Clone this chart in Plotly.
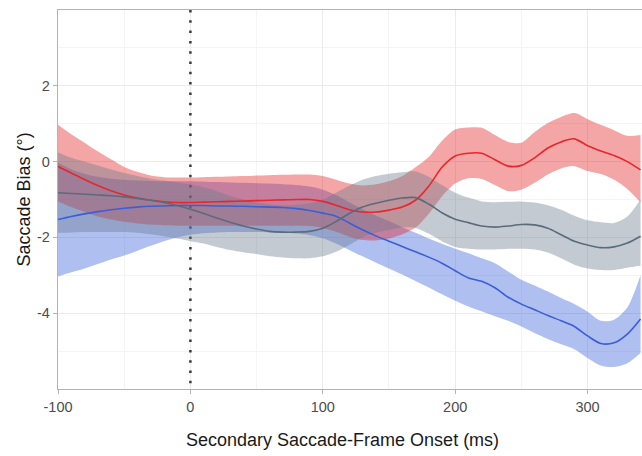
import plotly.graph_objects as go

# Secondary saccade-frame onset (ms)
onset = [-100, -90, -80, -70, -60, -50, -40, -30, -20, -10,
         0, 10, 20, 30, 40, 50, 60, 70, 80, 90,
         100, 110, 120, 130, 140, 150, 160, 170, 180, 190,
         200, 210, 220, 230, 240, 250, 260, 270, 280, 290,
         300, 310, 320, 330, 340]

# Red condition: fitted bias and confidence band
red_mean = [-0.13, -0.30, -0.47, -0.63, -0.77, -0.88, -0.96, -1.02, -1.06, -1.08,
            -1.08, -1.07, -1.06, -1.05, -1.04, -1.03, -1.02, -1.01, -1.00, -1.00,
            -1.05, -1.15, -1.27, -1.33, -1.33, -1.28, -1.20, -1.02, -0.65, -0.15,
            0.15, 0.22, 0.22, 0.05, -0.12, -0.10, 0.10, 0.36, 0.52, 0.60,
            0.42, 0.28, 0.16, 0.00, -0.22]
red_upper = [0.97, 0.72, 0.50, 0.27, 0.06, -0.14, -0.27, -0.37, -0.41, -0.42,
             -0.42, -0.41, -0.40, -0.39, -0.38, -0.37, -0.36, -0.35, -0.34, -0.34,
             -0.38, -0.48, -0.58, -0.63, -0.60, -0.52, -0.38, -0.15, 0.12, 0.55,
             0.85, 0.90, 0.89, 0.70, 0.52, 0.50, 0.78, 1.02, 1.18, 1.28,
             1.12, 0.97, 0.83, 0.68, 0.70]
red_lower = [-1.05, -1.20, -1.33, -1.45, -1.53, -1.59, -1.63, -1.66, -1.68, -1.69,
             -1.69, -1.69, -1.69, -1.69, -1.69, -1.69, -1.69, -1.69, -1.69, -1.70,
             -1.75, -1.85, -1.98, -2.07, -2.08, -2.03, -1.92, -1.74, -1.38, -0.92,
             -0.58, -0.44, -0.46, -0.62, -0.78, -0.74, -0.56, -0.34, -0.18, -0.12,
             -0.25, -0.33, -0.48, -0.72, -1.08]

# Blue condition
blue_mean = [-1.53, -1.45, -1.38, -1.32, -1.27, -1.23, -1.20, -1.18, -1.17, -1.16,
             -1.16, -1.16, -1.17, -1.17, -1.18, -1.19, -1.20, -1.21, -1.24, -1.29,
             -1.36, -1.44, -1.62, -1.80, -1.96, -2.10, -2.24, -2.38, -2.52, -2.68,
             -2.88, -3.07, -3.16, -3.33, -3.58, -3.76, -3.91, -4.06, -4.20, -4.35,
             -4.60, -4.80, -4.78, -4.55, -4.15]
blue_upper = [-0.03, -0.20, -0.32, -0.40, -0.45, -0.48, -0.50, -0.51, -0.52, -0.52,
              -0.52, -0.53, -0.54, -0.55, -0.56, -0.57, -0.58, -0.60, -0.62, -0.66,
              -0.74, -0.88, -1.07, -1.25, -1.42, -1.57, -1.73, -1.88, -2.03, -2.17,
              -2.30, -2.42, -2.55, -2.68, -2.90, -3.12, -3.27, -3.43, -3.60, -3.76,
              -3.96, -4.20, -4.17, -3.85, -3.00]
blue_lower = [-3.03, -2.92, -2.82, -2.70, -2.58, -2.48, -2.35, -2.22, -2.10, -2.00,
              -1.93, -1.89, -1.87, -1.86, -1.86, -1.86, -1.87, -1.88, -1.90, -1.94,
              -2.02, -2.16, -2.33, -2.50, -2.66, -2.82, -2.98, -3.15, -3.32, -3.50,
              -3.67, -3.82, -3.95, -4.08, -4.20, -4.35, -4.52, -4.68, -4.82, -4.95,
              -5.18, -5.38, -5.42, -5.32, -5.05]

# Gray condition
gray_mean = [-0.82, -0.84, -0.86, -0.88, -0.90, -0.93, -0.97, -1.02, -1.08, -1.16,
             -1.26, -1.37, -1.49, -1.60, -1.70, -1.78, -1.84, -1.86, -1.86, -1.84,
             -1.76, -1.58, -1.37, -1.20, -1.10, -1.02, -0.96, -0.95, -1.12, -1.35,
             -1.52, -1.61, -1.70, -1.73, -1.70, -1.66, -1.67, -1.76, -1.93, -2.10,
             -2.20, -2.27, -2.25, -2.15, -1.97]
gray_upper = [0.25, 0.10, 0.00, -0.10, -0.20, -0.30, -0.38, -0.45, -0.50, -0.55,
              -0.60, -0.68, -0.78, -0.90, -1.00, -1.08, -1.13, -1.15, -1.14, -1.10,
              -1.00, -0.82, -0.64, -0.48, -0.38, -0.32, -0.28, -0.26, -0.40, -0.62,
              -0.82, -0.95, -1.05, -1.07, -1.06, -1.05, -1.08, -1.15, -1.27, -1.43,
              -1.55, -1.60, -1.62, -1.45, -1.00]
gray_lower = [-1.88, -1.87, -1.86, -1.86, -1.86, -1.86, -1.88, -1.92, -1.97, -2.03,
              -2.10, -2.16, -2.25, -2.33, -2.39, -2.44, -2.50, -2.53, -2.55, -2.55,
              -2.50, -2.38, -2.20, -2.00, -1.88, -1.80, -1.74, -1.75, -1.90, -2.10,
              -2.25, -2.30, -2.32, -2.32, -2.30, -2.30, -2.32, -2.40, -2.55, -2.72,
              -2.82, -2.86, -2.86, -2.80, -2.75]

x_ticks = [-100, 0, 100, 200, 300]
x_labels = ["-100", "0", "100", "200", "300"]
y_ticks = [-4, -2, 0, 2]
y_labels = ["-4", "-2", "0", "2"]

# name, mean, upper, lower, line colour, ribbon colour (ribbons stacked in this order)
series = [
    ("blue", blue_mean, blue_upper, blue_lower, "#3c5dd8", "rgba(52,95,217,0.4)"),
    ("red", red_mean, red_upper, red_lower, "#e8262b", "rgba(227,32,32,0.4)"),
    ("gray", gray_mean, gray_upper, gray_lower, "#5b6b7b", "rgba(107,122,142,0.4)"),
]

fig = go.Figure()

# frame onset marker
fig.add_trace(go.Scatter(
    x=[0, 0], y=[4, -6], mode="lines",
    line=dict(color="#3a3a3a", width=2.5, dash="2.5px,7.8px"),
    hoverinfo="skip", showlegend=False))

# confidence ribbons
for name, mean, upper, lower, line_col, fill_col in series:
    fig.add_trace(go.Scatter(
        x=onset, y=lower, mode="lines", line=dict(width=0, shape="spline", smoothing=0.8),
        hoverinfo="skip", showlegend=False))
    fig.add_trace(go.Scatter(
        x=onset, y=upper, mode="lines", line=dict(width=0, shape="spline", smoothing=0.8),
        fill="tonexty", fillcolor=fill_col, hoverinfo="skip", showlegend=False))

# fitted lines on top
for name, mean, upper, lower, line_col, fill_col in series:
    fig.add_trace(go.Scatter(
        x=onset, y=mean, mode="lines", name=name,
        line=dict(color=line_col, width=1.6, shape="spline", smoothing=0.8),
        showlegend=False))

axis_font = dict(family="Liberation Sans, Arial, sans-serif", size=14.5, color="#4d4d4d")
title_font = dict(family="Liberation Sans, Arial, sans-serif", size=18, color="#1a1a1a")

fig.update_layout(
    width=642, height=456,
    margin=dict(l=58, r=0, t=10, b=67),
    paper_bgcolor="white", plot_bgcolor="white",
    xaxis=dict(
        range=[-100, 341.1], tickmode="array", tickvals=x_ticks, ticktext=x_labels,
        showgrid=True, gridcolor="#ebebeb", gridwidth=1,
        minor=dict(tickmode="array", tickvals=[-50, 50, 150, 250], showgrid=True,
                   gridcolor="#f4f4f4", gridwidth=1),
        showline=True, linecolor="#b3b3b3", linewidth=1.3, mirror=True,
        ticks="outside", ticklen=4, tickcolor="#b3b3b3", tickwidth=1,
        tickfont=axis_font, zeroline=False,
    ),
    yaxis=dict(
        range=[-6, 4], tickmode="array", tickvals=y_ticks, ticktext=y_labels,
        showgrid=True, gridcolor="#ebebeb", gridwidth=1,
        minor=dict(tickmode="array", tickvals=[-5, -3, -1, 1, 3], showgrid=True,
                   gridcolor="#f4f4f4", gridwidth=1),
        showline=True, linecolor="#b3b3b3", linewidth=1.3, mirror=False,
        ticks="outside", ticklen=4, tickcolor="#b3b3b3", tickwidth=1,
        tickfont=axis_font, zeroline=False,
    ),
    annotations=[
        dict(text="Secondary Saccade-Frame Onset (ms)", font=title_font,
             xref="paper", yref="paper", x=0.488, y=0, xanchor="center",
             yanchor="middle", yshift=-51, showarrow=False),
        dict(text="Saccade Bias (°)", font=title_font, textangle=-90,
             xref="paper", yref="paper", x=0, y=0.5, xanchor="center",
             yanchor="middle", xshift=-35, showarrow=False),
    ],
)

fig.write_html("out.html")
